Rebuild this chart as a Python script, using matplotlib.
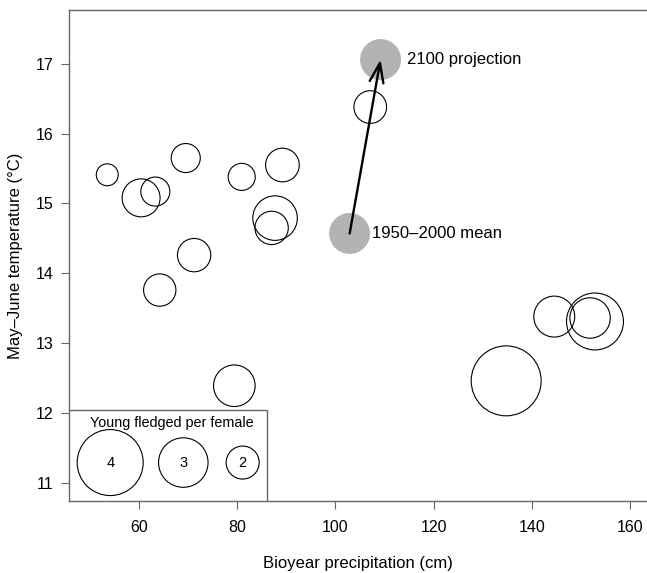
import numpy as np
import matplotlib
matplotlib.use("Agg")
import matplotlib.pyplot as plt

plt.rcParams['font.family'] = ['Liberation Sans', 'DejaVu Sans']

# yearly observations: precipitation (cm), May-June temperature (C), young fledged per female
precip = [53.5, 60.4, 63.3, 69.5, 80.9, 89.2, 87.7, 87.0, 71.2, 64.2, 79.4,
          107.1, 134.8, 144.6, 152.9, 151.9]
temp = [15.41, 15.08, 15.17, 15.65, 15.38, 15.55, 14.79, 14.65, 14.26, 13.76, 12.39,
        16.38, 12.46, 13.38, 13.31, 13.36]
fledged = [1.33, 2.30, 1.76, 1.76, 1.64, 2.04, 2.70, 2.02, 2.02, 1.96, 2.52,
           1.98, 4.24, 2.48, 3.45, 2.45]

# climate means
mean_x, mean_y = 102.9, 14.57
proj_x, proj_y = 109.2, 17.06

legend_vals = [4, 3, 2]
legend_x = [54.1, 69.0, 81.1]
legend_y = 11.29

xticks = [60, 80, 100, 120, 140, 160]
yticks = [11, 12, 13, 14, 15, 16, 17]

dpi = 100
px2pt = 72.0 / dpi


def size_of(v):
    # radius in pixels grows linearly with young fledged
    r = 8.25 * np.asarray(v)
    return (2 * r * px2pt) ** 2


fig = plt.figure(figsize=(6.47, 5.73), dpi=dpi)
ax = fig.add_axes([0.1066, 0.1257, 0.8934, 0.8569])
ax.set_xlim(45.7, 163.5)
ax.set_ylim(10.74, 17.77)

frame = '#666666'
for side in ['left', 'top', 'bottom']:
    ax.spines[side].set_color(frame)
    ax.spines[side].set_linewidth(1.0)
ax.spines['right'].set_visible(False)
ax.tick_params(direction='out', length=6, width=0.8, color=frame,
               labelsize=11.5)
ax.tick_params(axis='x', pad=8)
ax.tick_params(axis='y', pad=5)
ax.set_xticks(xticks)
ax.set_yticks(yticks)

ax.scatter(precip, temp, s=size_of(fledged), facecolors='none',
           edgecolors='black', linewidths=0.8, zorder=3)

# grey climate points and arrow
ax.scatter([mean_x, proj_x], [mean_y, proj_y], s=((2 * 20.5 * px2pt) ** 2),
           color='#b3b3b3', edgecolors='none', zorder=2)
ax.annotate('', xy=(proj_x, proj_y), xytext=(mean_x, mean_y),
            arrowprops=dict(arrowstyle='->,head_length=1.4,head_width=0.5',
                            color='black', lw=1.7, shrinkA=0, shrinkB=0),
            zorder=4)
ax.text(proj_x + 5.4, proj_y, '2100 projection', fontsize=12, va='center', ha='left')
ax.text(mean_x + 4.5, mean_y, '1950\u20132000 mean', fontsize=12, va='center', ha='left')

# size legend box
ax.add_patch(plt.Rectangle((45.7, 10.74), 86.07 - 45.7, 12.04 - 10.74,
                           facecolor='white', edgecolor=frame, linewidth=1.0,
                           zorder=5))
ax.scatter(legend_x, [legend_y] * 3, s=size_of(legend_vals), facecolors='none',
           edgecolors='black', linewidths=0.8, zorder=6)
for lx, lv in zip(legend_x, legend_vals):
    ax.text(lx, legend_y, str(lv), fontsize=10.5, ha='center', va='center', zorder=7)
ax.text(66.6, 11.86, 'Young fledged per female', fontsize=10.4, ha='center',
        va='center', zorder=7)

ax.set_xlabel('Bioyear precipitation (cm)', fontsize=12, labelpad=15)
ax.set_ylabel('May\u2013June temperature (\u00b0C)', fontsize=12, labelpad=9)

fig.savefig('out.png', dpi=dpi)
